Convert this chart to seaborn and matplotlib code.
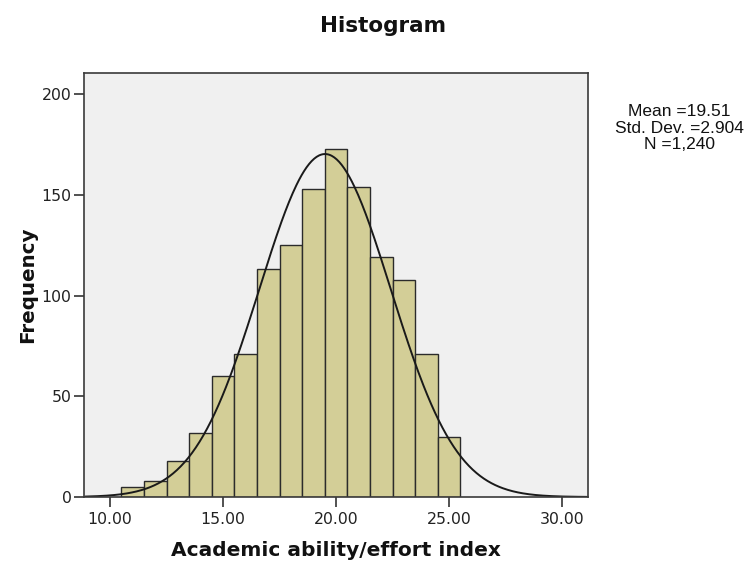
import numpy as np
import pandas as pd
import matplotlib
matplotlib.use("Agg")
import matplotlib.pyplot as plt
import seaborn as sns

# Data
bin_centers = [11, 12, 13, 14, 15, 16, 17, 18, 19, 20, 21, 22, 23, 24, 25]
counts = [5, 8, 18, 32, 60, 71, 113, 125, 153, 173, 154, 119, 108, 71, 30]
bin_width = 1.0
mean_val = 19.51
sd_val = 2.904
n_val = 1240
stats_lines = ["Mean =19.51", "Std. Dev. =2.904", "N =1,240"]
xtick_vals = [10, 15, 20, 25, 30]
ytick_vals = [0, 50, 100, 150, 200]

sns.set_style("white")
plt.rcParams['font.family'] = ['DejaVu Sans']

W, H = 750, 562
fig = plt.figure(figsize=(7.5, 5.62), dpi=100)
ax = fig.add_axes([84/W, 1-497/H, (588-84)/W, (497-73)/H])
ax.set_facecolor('#F0F0F0')

df = pd.DataFrame({'x': bin_centers, 'count': counts})
sns.histplot(data=df, x='x', weights='count', binwidth=bin_width,
             binrange=(bin_centers[0] - bin_width/2, bin_centers[-1] + bin_width/2), ax=ax,
             color='#D3CE97', edgecolor='#2b2b2b', linewidth=1.0, alpha=1.0)

# fitted normal curve from the reported statistics
xs = np.linspace(8.9, 31.1, 400)
ys = n_val * bin_width * np.exp(-0.5 * ((xs - mean_val) / sd_val) ** 2) / (sd_val * np.sqrt(2 * np.pi))
sns.lineplot(x=xs, y=ys, ax=ax, color='#1a1a1a', linewidth=1.4)

ax.set_xlim(8.85, 31.14)
ax.set_ylim(0, 210.6)
ax.set_xticks(xtick_vals)
ax.set_xticklabels([f"{v:.2f}" for v in xtick_vals])
ax.set_yticks(ytick_vals)
ax.set_yticklabels([str(v) for v in ytick_vals])
ax.tick_params(axis='both', direction='out', length=7, width=1.2, color='#333333',
               labelsize=11.3, labelcolor='#222222', bottom=True, left=True, pad=2)
ax.tick_params(axis='x', pad=4)
for s in ax.spines.values():
    s.set_visible(True)
    s.set_color('#3a3a3a')
    s.set_linewidth(1.2)

ax.set_xlabel('')
ax.set_ylabel('')

fig.text(336/W, 1-556/H, 'Academic ability/effort index', ha='center', va='baseline',
         fontsize=14.5, fontweight='bold', color='#111111')
fig.text(33/W, 1-285/H, 'Frequency', ha='center', va='baseline', rotation=90,
         rotation_mode='anchor', fontsize=14.3, fontweight='bold', color='#111111')
fig.text(383/W, 1-31.5/H, 'Histogram', ha='center', va='baseline',
         fontsize=15.5, fontweight='bold', color='#111111')

for i, line in enumerate(stats_lines):
    fig.text(679/W, 1-(112 + i*16.3)/H, line, ha='center', va='center',
             fontsize=12.5, family=['Liberation Sans', 'DejaVu Sans'], color='#111111')

fig.savefig('out.png', dpi=100)
